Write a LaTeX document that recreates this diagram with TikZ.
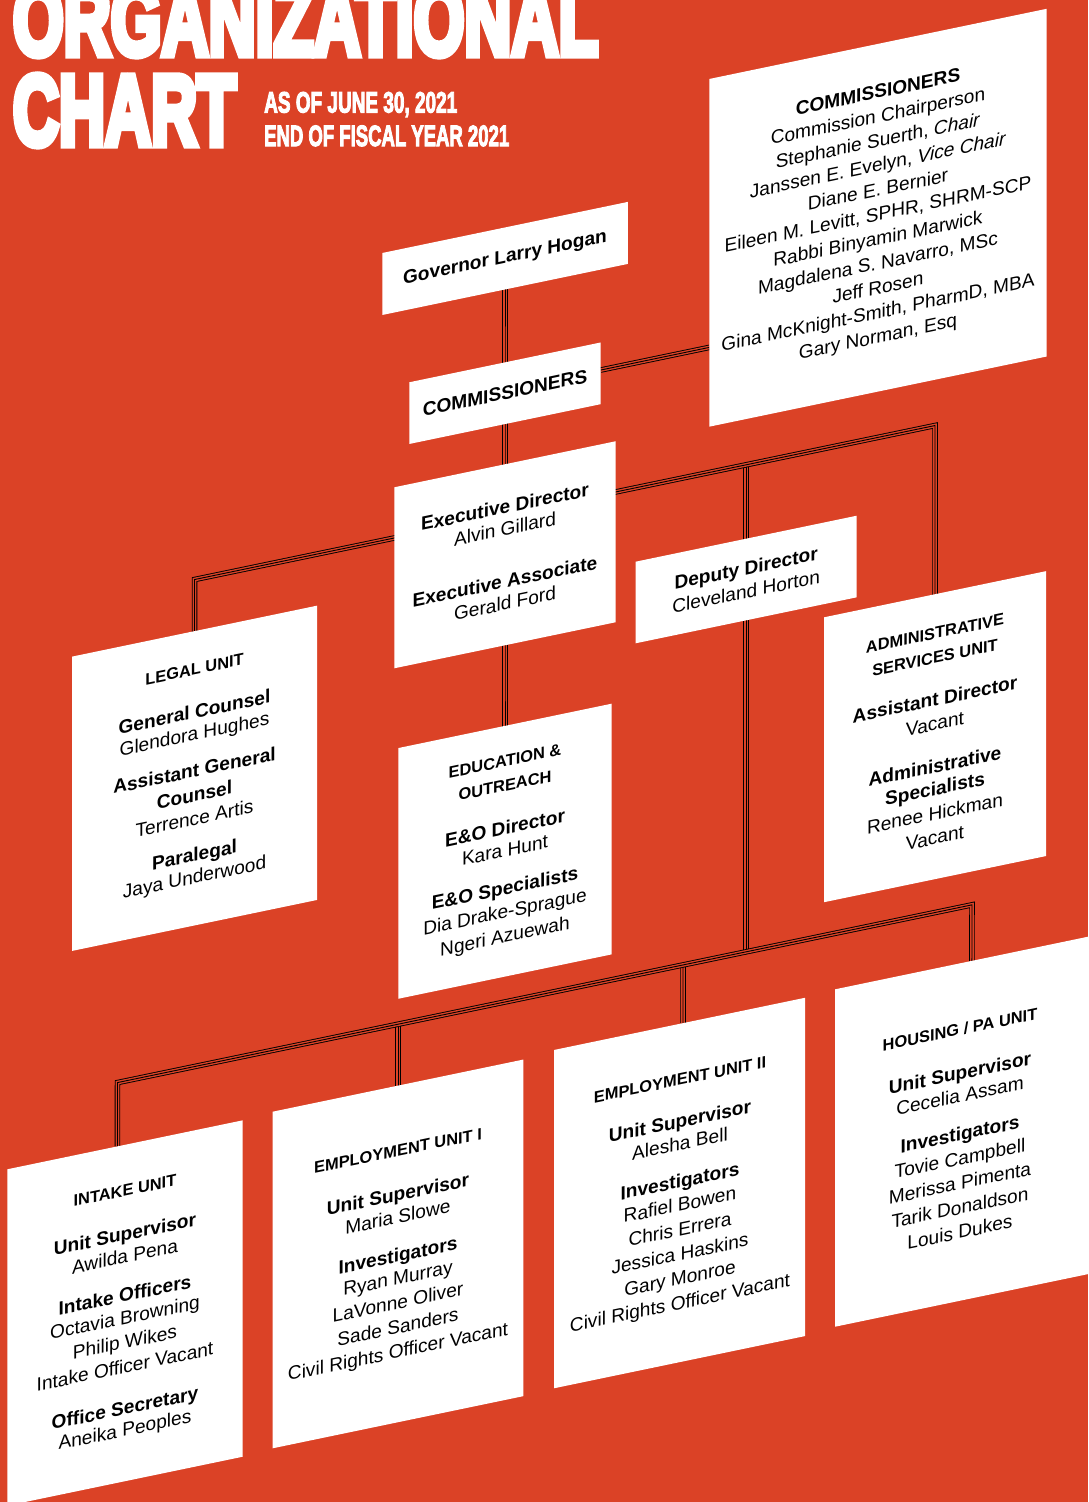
\documentclass[tikz,border=0pt]{standalone}
\usepackage{fontspec}
\setmainfont{Liberation Sans}
\newfontfamily\titlefont[BoldFeatures={FakeBold=8}]{Liberation Sans}
\newfontfamily\subfont[BoldFeatures={FakeBold=4}]{Liberation Sans}
\usetikzlibrary{calc,backgrounds}
\definecolor{bgred}{RGB}{219,66,38}
\tikzset{
  box/.style={draw=none, fill=white, inner sep=0pt, outer sep=0pt, transform shape, rectangle},
  txt/.style={align=center, transform shape, inner sep=0pt, text=black, font=\fontsize{19.1}{24.5}\selectfont},
  tri/.style={draw=black, line width=5.5pt, line join=miter,
    postaction={draw=bgred, line width=3.7pt},
    postaction={draw=black, line width=0.9pt}},
  ttl/.style={anchor=base west, inner sep=0pt, text=white}
}
\newcommand\hd[1]{{\fontsize{16.4}{24.5}\selectfont\bfseries #1}}
\begin{document}
\begin{tikzpicture}[x=1pt,y=-1pt]
\useasboundingbox (0,0) rectangle (1088,1502);
\begin{scope}[on background layer]
\fill[bgred] (0,0) rectangle (1088,1502);
\end{scope}
\clip (0,0) rectangle (1088,1502);

% title
\node[ttl] (t1) at (12.8,54.7) {\resizebox{585pt}{69.4pt}{\titlefont\bfseries ORGANIZATIONAL}};
\node[ttl] (t2) at (12.8,144.7) {\resizebox{223pt}{69.4pt}{\titlefont\bfseries CHART}};
\node[ttl] (s1) at (264,112.5) {\resizebox{193pt}{20.5pt}{\subfont\bfseries AS OF JUNE 30, 2021}};
\node[ttl] (s2) at (264,146) {\resizebox{245pt}{20.5pt}{\subfont\bfseries END OF FISCAL YEAR 2021}};

\begin{scope}[yslant=0.208]
% boxes (x, u) in unsheared space
\node[box, minimum width=245.5pt, minimum height=62pt]   (gov)    at (505,363.5) {};
\node[box, minimum width=191.4pt, minimum height=61.7pt] (comm)   at (505,498.25) {};
\node[box, minimum width=337.4pt, minimum height=347.7pt](big)    at (878,400.35) {};
\node[box, minimum width=221.4pt, minimum height=181pt]  (exec)   at (505,659.8) {};
\node[box, minimum width=221pt,   minimum height=81.6pt] (dep)    at (746.2,734.7) {};
\node[box, minimum width=245pt,   minimum height=294.3pt](legal)  at (194.5,818.75) {};
\node[box, minimum width=213.4pt, minimum height=250.7pt](eo)     at (505,956.25) {};
\node[box, minimum width=222pt,   minimum height=284.9pt](admin)  at (935,931.15) {};
\node[box, minimum width=235.4pt, minimum height=336.4pt](intake) at (125,1339) {};
\node[box, minimum width=250.6pt, minimum height=336.6pt](emp1)   at (398,1336.7) {};
\node[box, minimum width=251pt,   minimum height=338.3pt](emp2)   at (679.5,1334.35) {};
\node[box, minimum width=255pt,   minimum height=337.4pt](housing)at (962.5,1331.7) {};

% texts
\node[txt] (gov-t) at (505,363.5) {\textbf{Governor Larry Hogan}};
\node[txt] (comm-t) at (505,498) {\textbf{COMMISSIONERS}};
\node[txt] (big-t) at (878,398.6) {\textbf{COMMISSIONERS}\\
Commission Chairperson\\
Stephanie Suerth, \textit{Chair}\\
Janssen E. Evelyn, \textit{Vice Chair}\\
Diane E. Bernier\\
Eileen M. Levitt, SPHR, SHRM-SCP\\
Rabbi Binyamin Marwick\\
Magdalena S. Navarro, MSc\\
Jeff Rosen\\
Gina McKnight-Smith, PharmD, MBA\\
Gary Norman, Esq};
\node[txt] (exec-t) at (505,660) {\textbf{Executive Director}\\[-2.5pt]
Alvin Gillard\\[28pt]
\textbf{Executive Associate}\\[-2.5pt]
Gerald Ford};
\node[txt] (dep-t) at (746.2,735) {\textbf{Deputy Director}\\[-1pt] Cleveland Horton};
\node[txt] (legal-t) at (194.5,816) {\hd{LEGAL UNIT}\\[19pt]
\textbf{General Counsel}\\[-2.5pt]
Glendora Hughes\\[12pt]
\textbf{Assistant General}\\
\textbf{Counsel}\\[-1pt]
Terrence Artis\\[12pt]
\textbf{Paralegal}\\[-2.5pt]
Jaya Underwood};
\node[txt] (eo-t) at (505,956) {\hd{EDUCATION \&}\\
\hd{OUTREACH}\\[19pt]
\textbf{E\&O Director}\\[-2.5pt]
Kara Hunt\\[13.5pt]
\textbf{E\&O Specialists}\\[-1pt]
Dia Drake-Sprague\\
Ngeri Azuewah};
\node[txt] (admin-t) at (935,930.5) {\hd{ADMINISTRATIVE}\\
\hd{SERVICES UNIT}\\[18pt]
\textbf{Assistant Director}\\
Vacant\\[18pt]
\textbf{Administrative}\\[-2pt]
\textbf{Specialists}\\
Renee Hickman\\
Vacant};
\node[txt] (intake-t) at (125,1338.5) {\hd{INTAKE UNIT}\\[20pt]
\textbf{Unit Supervisor}\\[-2pt]
Awilda Pena\\[14pt]
\textbf{Intake Officers}\\[-2pt]
Octavia Browning\\
Philip Wikes\\
Intake Officer Vacant\\[17pt]
\textbf{Office Secretary}\\[-3pt]
Aneika Peoples};
\node[txt] (emp1-t) at (398,1336.3) {\hd{EMPLOYMENT UNIT I}\\[20pt]
\textbf{Unit Supervisor}\\[-2pt]
Maria Slowe\\[14pt]
\textbf{Investigators}\\[-2pt]
Ryan Murray\\
LaVonne Oliver\\
Sade Sanders\\
Civil Rights Officer Vacant};
\node[txt] (emp2-t) at (680,1334.9) {\hd{EMPLOYMENT UNIT II}\\[18pt]
\textbf{Unit Supervisor}\\[-2pt]
Alesha Bell\\[13pt]
\textbf{Investigators}\\[-1pt]
Rafiel Bowen\\
Chris Errera\\
Jessica Haskins\\
Gary Monroe\\
Civil Rights Officer Vacant};
\node[txt] (housing-t) at (960,1330.7) {\hd{HOUSING / PA UNIT}\\[20pt]
\textbf{Unit Supervisor}\\[-2pt]
Cecelia Assam\\[14pt]
\textbf{Investigators}\\
Tovie Campbell\\
Merissa Pimenta\\
Tarik Donaldson\\
Louis Dukes};

% bus corner points
\coordinate (busL)  at (194.5,620);
\coordinate (busD)  at (746.2,620);
\coordinate (busR)  at (935,620);
\coordinate (bus2L) at (117.5,1107);
\coordinate (bus2E1) at (398,1107);
\coordinate (bus2E2) at (683,1107);
\coordinate (bus2D) at (746.2,1107);
\coordinate (bus2R) at (972,1107);

\begin{scope}[on background layer]
\draw[tri] (gov.center) -- (comm.center) -- (exec.center) -- (eo.center);
\draw[tri] ($(comm.north east)!0.447!(comm.south east)$) -- ($(big.north west)!0.772!(big.south west)$);
\draw[tri] (busD) -- (dep.center) -- (bus2D);
\draw[tri] (bus2E1) -- (emp1.north);
\draw[tri] (bus2E2) -- ($(emp2.north west)!0.514!(emp2.north east)$);
\draw[tri] (legal.center) -- (busL) -- (busR) -- (admin.center);
\draw[tri] ($(intake.north west)!0.468!(intake.north east)$) -- (bus2L) -- (bus2R) -- ($(housing.north west)!0.537!(housing.north east)$);
\end{scope}
\end{scope}
\end{tikzpicture}
\end{document}
